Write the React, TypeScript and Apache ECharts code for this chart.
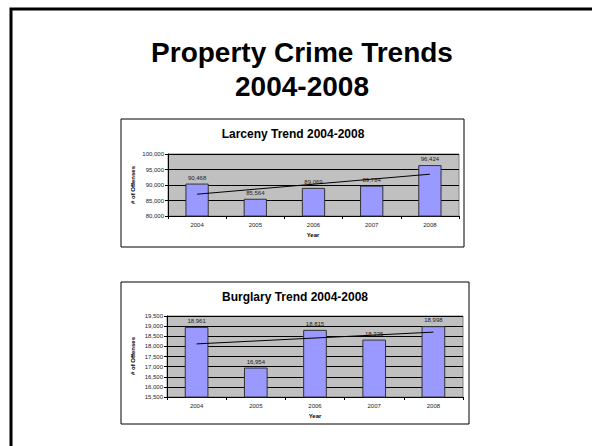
import React, { useEffect, useRef } from "react";
import * as echarts from "echarts";

const years = ["2004", "2005", "2006", "2007", "2008"];
const larceny = [90468, 85564, 89069, 89784, 96424];
const burglary = [18961, 16954, 18815, 18335, 18998];
// linear trendline endpoints (2004, 2008) as drawn
const larcenyTrend = [87035, 93488];
const burglaryTrend = [18122, 18704];

const mainTitle = ["Property Crime Trends", "2004-2008"];
const larcenyTitle = "Larceny Trend 2004-2008";
const burglaryTitle = "Burglary Trend 2004-2008";
const yName = "# of Offenses";
const xName = "Year";

const FONT = "'Liberation Sans', Arial, sans-serif";

function fmt(v: number) {
  return v.toLocaleString("en-US");
}

function trendData(t: number[]) {
  return [t[0], "-", "-", "-", t[1]];
}

export default function App() {
  const ref = useRef<HTMLDivElement>(null);
  useEffect(() => {
    if (!ref.current) return;
    const chart = echarts.init(ref.current, null, { renderer: "svg" });
    const grids = [
      { left: 168, top: 154, width: 291, height: 62 },
      { left: 167, top: 316, width: 296, height: 81 },
    ];
    const mkX = (i: number) => ({
      type: "category",
      gridIndex: i,
      data: years,
      boundaryGap: true,
      axisLine: { show: true, lineStyle: { color: "#000", width: 1 } },
      axisTick: { show: true, alignWithLabel: false, length: 3, lineStyle: { color: "#000" } },
      axisLabel: { fontSize: 6, color: "#222", fontFamily: FONT, margin: 6 },
      splitLine: { show: false },
    });
    const mkY = (i: number, min: number, max: number, interval: number) => ({
      type: "value",
      gridIndex: i,
      min,
      max,
      interval,
      axisLine: { show: true, lineStyle: { color: "#000", width: 1 } },
      axisTick: { show: true, inside: false, length: 3, lineStyle: { color: "#000" } },
      axisLabel: {
        fontSize: 6,
        color: "#222",
        fontFamily: FONT,
        margin: 4,
        formatter: (v: number) => fmt(v),
      },
      splitLine: { show: true, lineStyle: { color: "#000", width: 1 } },
    });
    const labelOpt = {
      show: true,
      position: "top",
      distance: 3,
      fontSize: 6,
      color: "#222",
      fontFamily: FONT,
      formatter: (p: any) => fmt(p.value),
    };
    const txt = (text: string, x: number, y: number, fontSize: number, rot = 0) => ({
      type: "text",
      x,
      y,
      rotation: rot,
      style: {
        text,
        fontSize,
        fontWeight: "bold",
        fontFamily: FONT,
        fill: "#000",
        align: "center",
        verticalAlign: "middle",
      },
    });
    chart.setOption({
      animation: false,
      backgroundColor: "#fff",
      textStyle: { fontFamily: FONT },
      grid: grids.map((g) => ({
        ...g,
        show: true,
        backgroundColor: "#c0c0c0",
        borderColor: "#808080",
        borderWidth: 1,
      })),
      xAxis: [mkX(0), mkX(1)],
      yAxis: [mkY(0, 80000, 100000, 5000), mkY(1, 15500, 19500, 500)],
      series: [
        {
          type: "bar",
          xAxisIndex: 0,
          yAxisIndex: 0,
          data: larceny,
          barWidth: "40%",
          itemStyle: { color: "#9999ff", borderColor: "#333", borderWidth: 1 },
          label: labelOpt,
          z: 2,
        },
        {
          type: "line",
          xAxisIndex: 0,
          yAxisIndex: 0,
          data: trendData(larcenyTrend),
          connectNulls: true,
          symbol: "none",
          lineStyle: { color: "#000", width: 1 },
          z: 5,
        },
        {
          type: "bar",
          xAxisIndex: 1,
          yAxisIndex: 1,
          data: burglary,
          barWidth: "40%",
          itemStyle: { color: "#9999ff", borderColor: "#333", borderWidth: 1 },
          label: labelOpt,
          z: 2,
        },
        {
          type: "line",
          xAxisIndex: 1,
          yAxisIndex: 1,
          data: trendData(burglaryTrend),
          connectNulls: true,
          symbol: "none",
          lineStyle: { color: "#000", width: 1 },
          z: 5,
        },
      ],
      graphic: [
        {
          type: "rect",
          shape: { x: 11, y: 9, width: 600, height: 460 },
          style: { fill: "none", stroke: "#000", lineWidth: 3 },
          z: 0,
        },
        {
          type: "rect",
          shape: { x: 121, y: 119, width: 343, height: 128 },
          style: { fill: "none", stroke: "#000", lineWidth: 1 },
        },
        {
          type: "rect",
          shape: { x: 121, y: 282, width: 348, height: 142 },
          style: { fill: "none", stroke: "#000", lineWidth: 1 },
        },
        txt(mainTitle[0], 302, 52, 28),
        txt(mainTitle[1], 302, 86, 28),
        txt(larcenyTitle, 293, 134, 12),
        txt(burglaryTitle, 295, 297, 12),
        txt(xName, 313, 235, 6),
        txt(xName, 315, 416, 6),
        txt(yName, 133, 185, 6, Math.PI / 2),
        txt(yName, 133, 356, 6, Math.PI / 2),
      ],
    });
    return () => chart.dispose();
  }, []);
  return (
    <div
      ref={ref}
      style={{ position: "fixed", left: 0, top: 0, width: 592, height: 446 }}
    />
  );
}
